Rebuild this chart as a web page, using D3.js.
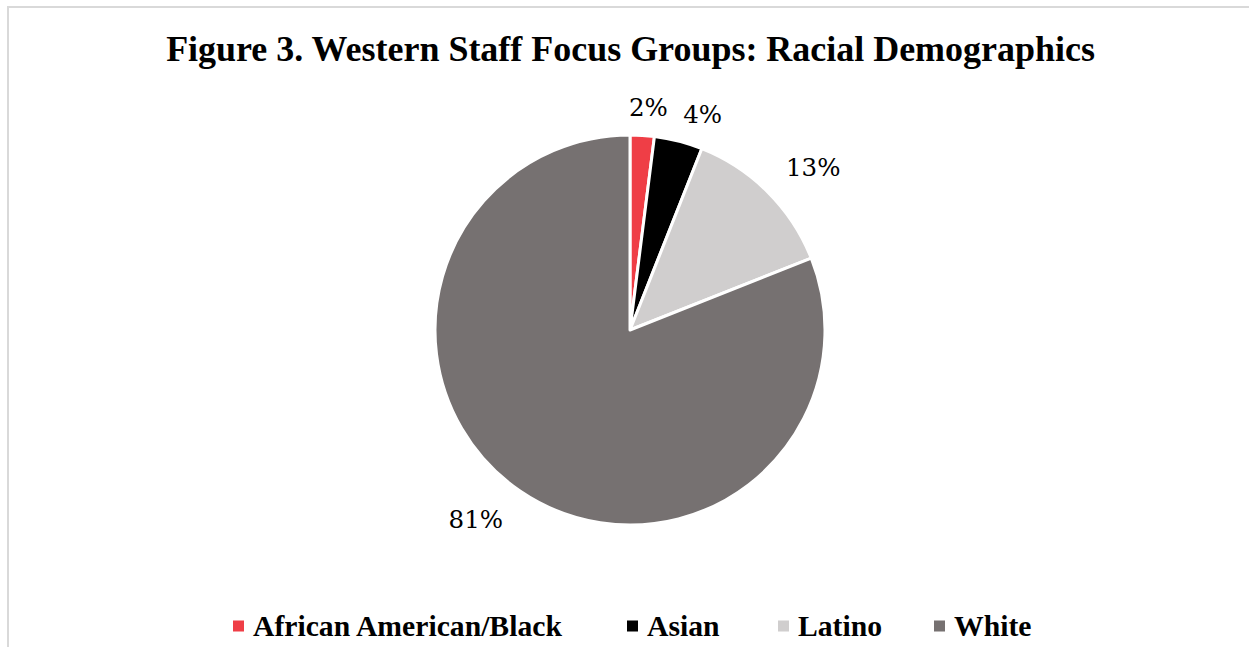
<!DOCTYPE html>
<html>
<head>
<meta charset="utf-8">
<script src="https://cdn.jsdelivr.net/npm/d3@7"></script>
<style>
  html, body { margin: 0; padding: 0; background: #fff; }
  svg { display: block; }
</style>
</head>
<body>
<svg id="chart" width="1249" height="647"></svg>
<script>
// Racial demographics of the Western staff focus groups (percent)
const categories = ["African American/Black", "Asian", "Latino", "White"];
const values = [2, 4, 13, 81];
const colors = ["#EF3E46", "#000000", "#D0CECE", "#767171"];
const title = "Figure 3. Western Staff Focus Groups: Racial Demographics";

const W = 1249, H = 647;
const svg = d3.select("#chart");
const serif = "'Liberation Serif', 'DejaVu Serif', serif";

// chart area frame
svg.append("rect")
  .attr("x", 8).attr("y", 7)
  .attr("width", W + 20).attr("height", H + 20)
  .attr("fill", "#fff")
  .attr("stroke", "#D9D9D9").attr("stroke-width", 2);

// scale a text element's font size so it spans the given width
function fitWidth(sel, target, base) {
  sel.attr("font-size", base);
  const w = sel.node().getComputedTextLength();
  const size = base * target / w;
  sel.attr("font-size", size);
  return size;
}

// title
const titleText = svg.append("text")
  .attr("x", 630.5).attr("y", 61)
  .attr("text-anchor", "middle")
  .attr("font-family", serif)
  .attr("font-weight", "bold")
  .attr("fill", "#000")
  .text(title);
fitWidth(titleText, 929, 34);

// pie
const cx = 630, cy = 330, R = 195;
const pie = d3.pie().sort(null).value(d => d.value);
const arc = d3.arc().innerRadius(0).outerRadius(R);
const labelArc = d3.arc().innerRadius(228).outerRadius(228);

const data = categories.map((c, i) => ({ name: c, value: values[i], color: colors[i] }));
const arcs = pie(data);

const g = svg.append("g").attr("transform", `translate(${cx},${cy})`);
g.selectAll("path.slice")
  .data(arcs)
  .join("path")
  .attr("class", "slice")
  .attr("d", arc)
  .attr("fill", d => d.data.color)
  .attr("stroke", "#fff")
  .attr("stroke-width", 3)
  .attr("stroke-linejoin", "round");

// outside-end data labels, nudged away from the rim like the label boxes sit
const labelNudge = [[4, 5], [16, 5], [22, -1], [-26, 1]];
g.selectAll("text.pct")
  .data(arcs)
  .join("text")
  .attr("class", "pct")
  .attr("transform", (d, i) => {
    const [x, y] = labelArc.centroid(d);
    return `translate(${x + labelNudge[i][0]},${y + labelNudge[i][1]})`;
  })
  .attr("text-anchor", "middle")
  .attr("dy", "0.35em")
  .attr("font-family", "'DejaVu Serif', serif")
  .attr("font-size", 24.5)
  .attr("fill", "#000")
  .text(d => d3.format(".0f")(d.data.value) + "%");

// legend
const legendX = [233, 627, 778, 934];
const legendY = 626;
const legend = svg.append("g");
const items = legend.selectAll("g.item")
  .data(data)
  .join("g")
  .attr("class", "item")
  .attr("transform", (d, i) => `translate(${legendX[i]},${legendY})`);
items.append("rect")
  .attr("x", 0).attr("y", -5.5)
  .attr("width", 11).attr("height", 11)
  .attr("fill", d => d.color);
const legendTexts = items.append("text")
  .attr("x", 20)
  .attr("dy", "0.35em")
  .attr("font-family", serif)
  .attr("font-weight", "bold")
  .attr("fill", "#000")
  .text(d => d.name);
const lsize = fitWidth(d3.select(legendTexts.nodes()[0]), 309, 26);
legendTexts.attr("font-size", lsize);
</script>
</body>
</html>
